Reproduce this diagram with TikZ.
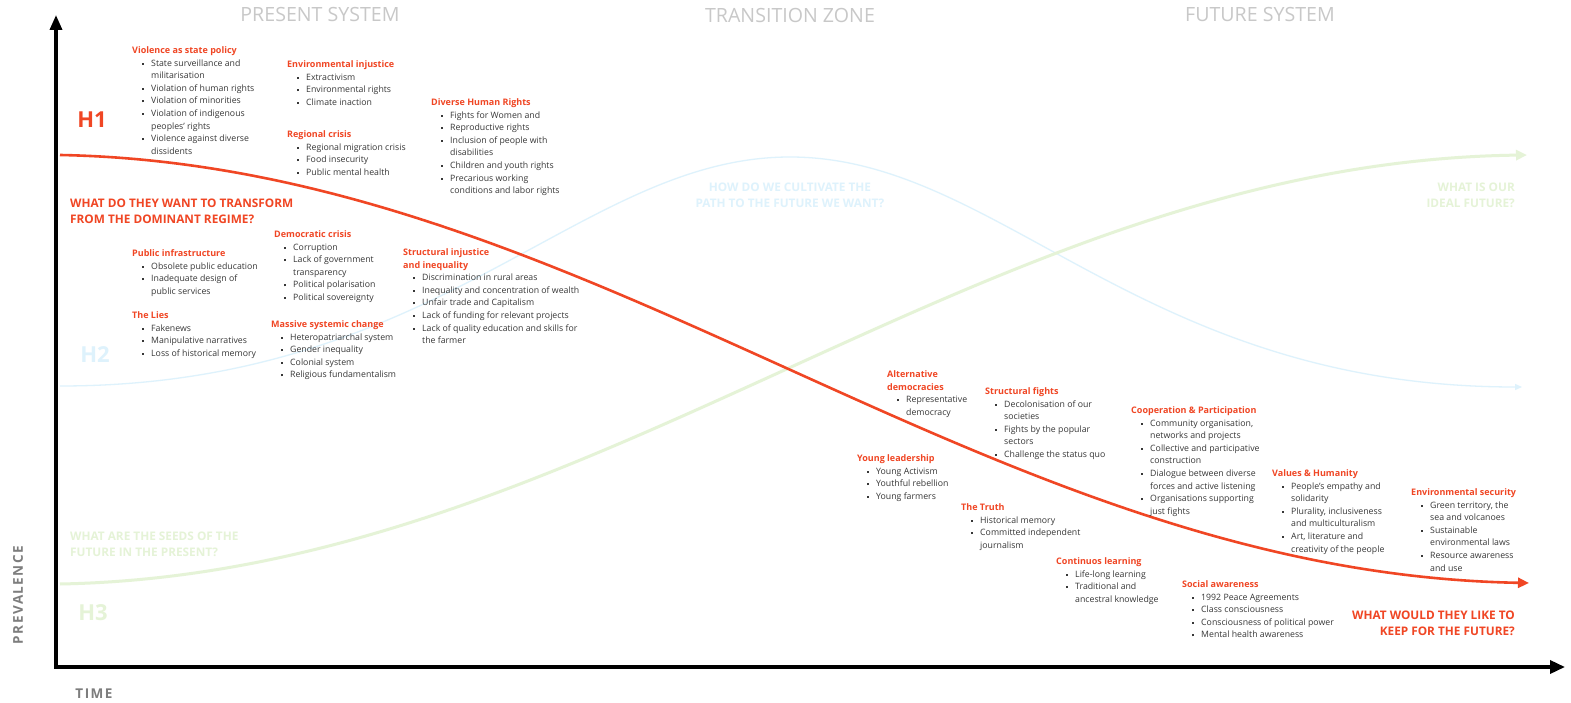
\documentclass[tikz,border=0pt]{standalone}
\usepackage{fontspec}
\setmainfont{Open Sans}
\usetikzlibrary{arrows.meta}
\definecolor{hred}{RGB}{240,70,36}
\definecolor{hblue}{RGB}{222,242,252}
\definecolor{hgreen}{RGB}{229,243,215}
\definecolor{txt}{RGB}{55,55,55}
\definecolor{zone}{RGB}{200,200,200}
\definecolor{axlab}{RGB}{125,125,125}
\newcommand{\hd}[1]{{\fontsize{9}{12.6}\selectfont\bfseries\color{hred}#1}}
\newcommand{\bi}{\\\hspace*{10pt}\makebox[9pt][l]{\raisebox{1.6pt}{\rule{1.9pt}{1.9pt}}}}
\newcommand{\cn}{\\\hspace*{19pt}}
\begin{document}
\begin{tikzpicture}[x=1pt,y=-1pt,
  blk/.style={anchor=north west, inner sep=0pt, align=left, font=\fontsize{8.75}{12.6}\selectfont, text=txt},
  zonelab/.style={inner sep=0pt, font=\fontsize{19.6}{22}\selectfont, text=zone},
  hlab/.style={inner sep=0pt, font=\fontsize{22}{24}\selectfont\bfseries},
  question/.style={inner sep=0pt, font=\fontsize{11.8}{16.2}\selectfont\bfseries},
  axlabel/.style={inner sep=0pt, font=\fontsize{13.5}{15}\selectfont\bfseries\addfontfeature{LetterSpace=11}, text=axlab},
  axis/.style={line width=3.4pt, black},
  curve/.style={line cap=butt}]
\fill[white] (0,0) rectangle (1571,703);
\useasboundingbox (0,0) rectangle (1571,703);

% zone headings
\node[zonelab] (zpres) at (320,15) {PRESENT SYSTEM};
\node[zonelab] (ztrans) at (790,15) {TRANSITION ZONE};
\node[zonelab] (zfut) at (1260,15) {FUTURE SYSTEM};

% curves
\coordinate (b0) at (60,386);
\coordinate (bp) at (790,157);
\coordinate (b1) at (1522,387);
\draw[curve, hblue, line width=1.3pt, -{Triangle[length=7pt,width=6pt]}]
  (b0) .. controls (440,386) and (580,157) .. (bp)
       .. controls (1000,157) and (1140,387) .. (b1);
\coordinate (g0) at (60,584);
\coordinate (g1) at (1527,155);
\draw[curve, hgreen, line width=3pt, -{Triangle[length=11pt,width=10pt]}]
  (g0) .. controls (593,574) and (983,162) .. (g1);
\coordinate (r0) at (60,155);
\coordinate (r1) at (1529,583);
\draw[curve, hred, line width=2.6pt, -{Triangle[length=11pt,width=10pt]}]
  (r0) .. controls (593,165) and (983,573) .. (r1);

% axes
\coordinate (org) at (56,667);
\coordinate (ytip) at (56,15);
\coordinate (xtip) at (1565,667);
\coordinate (xstart) at (54,667);
\draw[axis, -{Triangle[length=15pt,width=12pt]}] (org) -- (ytip);
\draw[axis, -{Triangle[length=15pt,width=13pt]}] (xstart) -- (xtip);
\node[axlabel, rotate=90] (prev) at (18,595) {PREVALENCE};
\node[axlabel] (time) at (94,694) {TIME};

% horizon labels
\node[hlab, text=hred] (h1) at (92,120) {H1};
\node[hlab, text=hblue] (h2) at (95,355) {H2};
\node[hlab, text=hgreen] (h3) at (93,613) {H3};

% questions
\node[question, text=hred, anchor=north west, align=left] (q1) at (70,198.5) {WHAT DO THEY WANT TO TRANSFORM\\FROM THE DOMINANT REGIME?};
\node[question, text=hblue, anchor=north, align=center] (q2) at (790,182.5) {HOW DO WE CULTIVATE THE\\PATH TO THE FUTURE WE WANT?};
\node[question, text=hgreen, anchor=north east, align=right] (q3) at (1515,182.5) {WHAT IS OUR\\IDEAL FUTURE?};
\node[question, text=hgreen, anchor=north west, align=left] (q4) at (70,531.5) {WHAT ARE THE SEEDS OF THE\\FUTURE IN THE PRESENT?};
\node[question, text=hred, anchor=north east, align=right] (q5) at (1515,610.5) {WHAT WOULD THEY LIKE TO\\KEEP FOR THE FUTURE?};

% present system blocks
\node[blk] (vio) at (132,46.5) {\hd{Violence as state policy}\bi State surveillance and\cn militarisation\bi Violation of human rights\bi Violation of minorities\bi Violation of indigenous\cn peoples' rights\bi Violence against diverse\cn dissidents};
\node[blk] (env) at (287,60.5) {\hd{Environmental injustice}\bi Extractivism\bi Environmental rights\bi Climate inaction};
\node[blk] (reg) at (287,130.5) {\hd{Regional crisis}\bi Regional migration crisis\bi Food insecurity\bi Public mental health};
\node[blk] (dhr) at (431,98.5) {\hd{Diverse Human Rights}\bi Fights for Women and\bi Reproductive rights\bi Inclusion of people with\cn disabilities\bi Children and youth rights\bi Precarious working\cn conditions and labor rights};
\node[blk] (dem) at (274,230.5) {\hd{Democratic crisis}\bi Corruption\bi Lack of government\cn transparency\bi Political polarisation\bi Political sovereignty};
\node[blk] (pub) at (132,249.5) {\hd{Public infrastructure}\bi Obsolete public education\bi Inadequate design of\cn public services};
\node[blk] (sij) at (403,248.5) {\hd{Structural injustice}\\\hd{and inequality}\bi Discrimination in rural areas\bi Inequality and concentration of wealth\bi Unfair trade and Capitalism\bi Lack of funding for relevant projects\bi Lack of quality education and skills for\cn the farmer};
\node[blk] (lies) at (132,311.5) {\hd{The Lies}\bi Fakenews\bi Manipulative narratives\bi Loss of historical memory};
\node[blk] (msc) at (271,320.5) {\hd{Massive systemic change}\bi Heteropatriarchal system\bi Gender inequality\bi Colonial system\bi Religious fundamentalism};

% future system blocks
\node[blk] (alt) at (887,370.5) {\hd{Alternative}\\\hd{democracies}\bi Representative\cn democracy};
\node[blk] (sfi) at (985,387.5) {\hd{Structural fights}\bi Decolonisation of our\cn societies\bi Fights by the popular\cn sectors\bi Challenge the status quo};
\node[blk] (coop) at (1131,406.5) {\hd{Cooperation \& Participation}\bi Community organisation,\cn networks and projects\bi Collective and participative\cn construction\bi Dialogue between diverse\cn forces and active listening\bi Organisations supporting\cn just fights};
\node[blk] (yl) at (857,454.5) {\hd{Young leadership}\bi Young Activism\bi Youthful rebellion\bi Young farmers};
\node[blk] (truth) at (961,503.5) {\hd{The Truth}\bi Historical memory\bi Committed independent\cn journalism};
\node[blk] (val) at (1272,469.5) {\hd{Values \& Humanity}\bi People's empathy and\cn solidarity\bi Plurality, inclusiveness\cn and multiculturalism\bi Art, literature and\cn creativity of the people};
\node[blk] (envs) at (1411,488.5) {\hd{Environmental security}\bi Green territory, the\cn sea and volcanoes\bi Sustainable\cn environmental laws\bi Resource awareness\cn and use};
\node[blk] (cl) at (1056,557.5) {\hd{Continuos learning}\bi Life-long learning\bi Traditional and\cn ancestral knowledge};
\node[blk] (soc) at (1182,580.5) {\hd{Social awareness}\bi 1992 Peace Agreements\bi Class consciousness\bi Consciousness of political power\bi Mental health awareness};
\end{tikzpicture}
\end{document}
